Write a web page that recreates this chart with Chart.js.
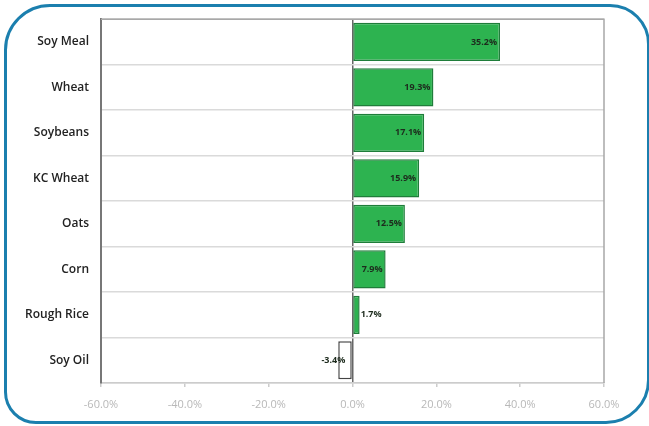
<!DOCTYPE html>
<html>
<head>
<meta charset="utf-8">
<script src="https://cdn.jsdelivr.net/npm/chart.js@4"></script>
<style>
    html, body { margin: 0; padding: 0; background: #fff; }
    #frame {
        position: absolute; left: 4px; top: 4px; width: 640px; height: 414px;
        border: 3px solid #1b7fae;
        border-radius: 46px 40px 44px 32px;
    }
    #wrap { position: absolute; left: 0; top: 0; width: 649px; height: 426px; }
</style>
</head>
<body>
<div id="frame"></div>
<div id="wrap"><canvas id="returns_chart" width="649" height="426"></canvas></div>
<script>
    var categories = ['Soy Meal', 'Wheat', 'Soybeans', 'KC Wheat', 'Oats', 'Corn', 'Rough Rice', 'Soy Oil'];
    var returns = [35.2, 19.3, 17.1, 15.9, 12.5, 7.9, 1.7, -3.4];
    var xTicks = [-60, -40, -20, 0, 20, 40, 60];

    // value labels drawn at the end of each bar
    var barLabels = {
        id: 'barLabels',
        afterDatasetsDraw: function (chart) {
            var ctx = chart.ctx;
            var meta = chart.getDatasetMeta(0);
            ctx.save();
            ctx.font = 'bold 9px "Open Sans", sans-serif';
            ctx.fillStyle = '#1d2b1d';
            ctx.textBaseline = 'middle';
            meta.data.forEach(function (bar, i) {
                var v = returns[i];
                var text = v.toFixed(1) + '%';
                if (v >= 5) {
                    ctx.textAlign = 'right';
                    ctx.fillText(text, bar.x - 3, bar.y);
                } else if (v >= 0) {
                    ctx.textAlign = 'left';
                    ctx.fillText(text, bar.x + 1, bar.y);
                } else {
                    ctx.textAlign = 'right';
                    ctx.fillText(text, bar.x + 7, bar.y);
                }
            });
            ctx.restore();
        }
    };

    // thin frame round the plot area (top and right edges)
    var plotFrame = {
        id: 'plotFrame',
        beforeDatasetsDraw: function (chart) {
            var a = chart.chartArea;
            var ctx = chart.ctx;
            ctx.save();
            ctx.strokeStyle = '#a8a8a8';
            ctx.lineWidth = 1.5;
            ctx.beginPath();
            ctx.moveTo(a.left, a.top);
            ctx.lineTo(a.right, a.top);
            ctx.lineTo(a.right, a.bottom);
            ctx.stroke();
            ctx.restore();
        }
    };

    var canvas = document.getElementById('returns_chart');
    var chart = new Chart(canvas, {
        type: 'bar',
        data: {
            labels: categories,
            datasets: [{
                data: returns,
                backgroundColor: returns.map(function (v) { return v < 0 ? '#ffffff' : '#2db350'; }),
                borderColor: returns.map(function (v) { return v < 0 ? '#444444' : '#1f7d3a'; }),
                borderWidth: 1.5,
                borderSkipped: false,
                categoryPercentage: 0.84,
                barPercentage: 1.0
            }]
        },
        options: {
            indexAxis: 'y',
            responsive: false,
            animation: false,
            devicePixelRatio: 1,
            layout: { padding: { left: 0, top: 18, right: 45, bottom: 0 } },
            plugins: { legend: { display: false }, tooltip: { enabled: false } },
            scales: {
                x: {
                    min: -60,
                    max: 60,
                    afterBuildTicks: function (scale) {
                        scale.ticks = xTicks.map(function (v) { return { value: v }; });
                    },
                    afterFit: function (scale) { scale.height = 43; },
                    ticks: {
                        color: '#b8b8b8',
                        font: { family: '"Open Sans", sans-serif', size: 11 },
                        padding: 11,
                        callback: function (v) { return v.toFixed(1) + '%'; }
                    },
                    grid: {
                        color: function (c) { return c.tick && c.tick.value === 0 ? '#666666' : 'rgba(0,0,0,0)'; },
                        lineWidth: 1.5,
                        drawTicks: true,
                        tickLength: 4,
                        tickColor: '#cccccc'
                    },
                    border: { color: '#cccccc', width: 1.5 }
                },
                y: {
                    afterFit: function (scale) { scale.width = 101; },
                    ticks: {
                        color: '#222222',
                        font: { family: '"Open Sans", sans-serif', size: 12, weight: '600' },
                        padding: 12
                    },
                    grid: {
                        offset: true,
                        color: '#dadada',
                        lineWidth: 1.5,
                        drawTicks: false
                    },
                    border: { color: '#777777', width: 2 }
                }
            }
        },
        plugins: [plotFrame, barLabels]
    });
</script>
</body>
</html>
